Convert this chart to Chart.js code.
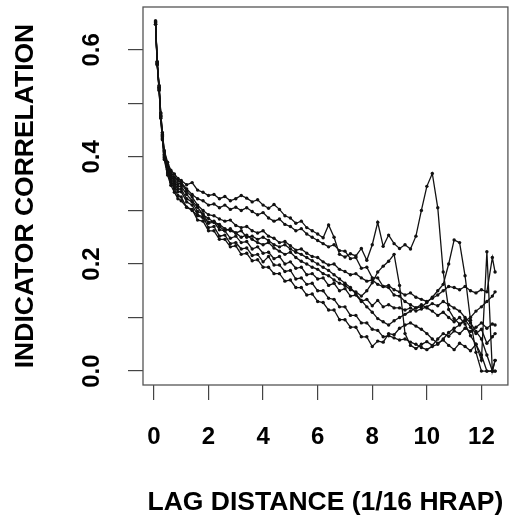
<!DOCTYPE html>
<html>
<head>
<meta charset="utf-8">
<script src="https://cdn.jsdelivr.net/npm/chart.js@4.4.1/dist/chart.umd.min.js"></script>
<style>
    html, body { margin: 0; padding: 0; background: #fff; overflow: hidden; }
    canvas { display: block; }
</style>
</head>
<body>
<canvas id="chart" width="520" height="521"></canvas>
<script>
// lag distance (1/16 HRAP) shared by all series
const lag = [0.06, 0.12, 0.19, 0.25, 0.31, 0.38, 0.5, 0.62, 0.75, 0.88,
    1.0, 1.2, 1.4, 1.6, 1.8, 2.0, 2.2, 2.4, 2.6, 2.8,
    3.0, 3.2, 3.4, 3.6, 3.8, 4.0, 4.2, 4.4, 4.6, 4.8,
    5.0, 5.2, 5.4, 5.6, 5.8, 6.0, 6.2, 6.4, 6.6, 6.8,
    7.0, 7.2, 7.4, 7.6, 7.8, 8.0, 8.2, 8.4, 8.6, 8.8,
    9.0, 9.2, 9.4, 9.6, 9.8, 10.0, 10.2, 10.4, 10.6, 10.8,
    11.0, 11.2, 11.4, 11.6, 11.8, 12.0, 12.2, 12.4, 12.5];

const series1 = [0.654, 0.578, 0.533, 0.482, 0.445, 0.412, 0.39, 0.375, 0.368, 0.36,
    0.356, 0.348, 0.352, 0.338, 0.334, 0.328, 0.33, 0.322, 0.326, 0.318,
    0.322, 0.328, 0.323, 0.316, 0.32, 0.31, 0.304, 0.311, 0.302, 0.29,
    0.286, 0.276, 0.28, 0.268, 0.262, 0.256, 0.249, 0.273, 0.25, 0.218,
    0.213, 0.219, 0.215, 0.229, 0.207, 0.236, 0.278, 0.233, 0.254, 0.238,
    0.229, 0.236, 0.228, 0.252, 0.3, 0.345, 0.369, 0.305, 0.185, 0.115,
    0.098, 0.088, 0.096, 0.082, 0.07, 0.078, 0.052, 0.064, 0.07];

const series2 = [0.654, 0.578, 0.533, 0.482, 0.445, 0.41, 0.386, 0.372, 0.362, 0.356,
    0.352, 0.34, 0.33, 0.322, 0.318, 0.31, 0.312, 0.305, 0.31, 0.302,
    0.306, 0.3, 0.305, 0.298, 0.292, 0.296, 0.286, 0.28, 0.284, 0.274,
    0.27, 0.262, 0.266, 0.256, 0.25, 0.244, 0.238, 0.232, 0.236, 0.225,
    0.224, 0.21, 0.212, 0.192, 0.194, 0.174, 0.174, 0.158, 0.156, 0.142,
    0.14, 0.13, 0.124, 0.118, 0.12, 0.128, 0.138, 0.15, 0.162, 0.2,
    0.245, 0.24, 0.178, 0.095, 0.035, 0, 0, 0, 0];

const series3 = [0.652, 0.576, 0.53, 0.48, 0.442, 0.408, 0.383, 0.368, 0.357, 0.35,
    0.35, 0.336, 0.325, 0.31, 0.3, 0.292, 0.29, 0.284, 0.28, 0.282,
    0.272, 0.268, 0.27, 0.262, 0.258, 0.262, 0.252, 0.248, 0.24, 0.242,
    0.234, 0.226, 0.228, 0.22, 0.214, 0.212, 0.204, 0.198, 0.2, 0.19,
    0.186, 0.18, 0.182, 0.174, 0.168, 0.17, 0.162, 0.158, 0.16, 0.152,
    0.148, 0.142, 0.146, 0.138, 0.134, 0.13, 0.136, 0.142, 0.15, 0.158,
    0.156, 0.152, 0.158, 0.15, 0.146, 0.152, 0.148, 0.212, 0.185];

const series4 = [0.652, 0.576, 0.53, 0.478, 0.44, 0.405, 0.38, 0.365, 0.353, 0.345,
    0.345, 0.33, 0.318, 0.306, 0.292, 0.285, 0.278, 0.274, 0.266, 0.262,
    0.258, 0.25, 0.254, 0.246, 0.24, 0.236, 0.24, 0.23, 0.224, 0.218,
    0.222, 0.212, 0.205, 0.2, 0.194, 0.19, 0.182, 0.178, 0.17, 0.164,
    0.16, 0.152, 0.148, 0.14, 0.15, 0.165, 0.185, 0.196, 0.205, 0.218,
    0.16, 0.07, 0.048, 0.042, 0.05, 0.055, 0.048, 0.06, 0.07, 0.065,
    0.075, 0.07, 0.08, 0.074, 0.082, 0.09, 0.08, 0.088, 0.086];

const series5 = [0.65, 0.574, 0.528, 0.476, 0.438, 0.402, 0.377, 0.36, 0.349, 0.34,
    0.34, 0.322, 0.316, 0.298, 0.294, 0.276, 0.278, 0.264, 0.262, 0.248,
    0.252, 0.24, 0.242, 0.228, 0.232, 0.22, 0.222, 0.21, 0.214, 0.2,
    0.204, 0.192, 0.194, 0.18, 0.182, 0.172, 0.174, 0.16, 0.164, 0.15,
    0.154, 0.14, 0.142, 0.13, 0.134, 0.122, 0.132, 0.12, 0.124, 0.118,
    0.118, 0.114, 0.118, 0.112, 0.116, 0.12, 0.126, 0.122, 0.13, 0.124,
    0.118, 0.112, 0.1, 0.09, 0.074, 0.06, 0.03, 0, 0.02];

const series6 = [0.65, 0.574, 0.527, 0.475, 0.436, 0.4, 0.374, 0.356, 0.344, 0.335,
    0.335, 0.316, 0.31, 0.292, 0.288, 0.268, 0.27, 0.252, 0.254, 0.238,
    0.24, 0.228, 0.23, 0.216, 0.218, 0.204, 0.214, 0.198, 0.198, 0.186,
    0.188, 0.172, 0.174, 0.162, 0.164, 0.15, 0.15, 0.136, 0.134, 0.12,
    0.12, 0.104, 0.104, 0.09, 0.09, 0.078, 0.076, 0.064, 0.066, 0.062,
    0.058, 0.06, 0.054, 0.05, 0.044, 0.04, 0.046, 0.05, 0.06, 0.072,
    0.08, 0.086, 0.094, 0.1, 0.112, 0.12, 0.13, 0.14, 0.148];

const series7 = [0.648, 0.572, 0.525, 0.473, 0.434, 0.398, 0.37, 0.352, 0.34, 0.328,
    0.325, 0.306, 0.302, 0.282, 0.28, 0.262, 0.262, 0.246, 0.246, 0.232,
    0.234, 0.218, 0.22, 0.206, 0.208, 0.194, 0.194, 0.182, 0.182, 0.168,
    0.17, 0.156, 0.156, 0.142, 0.144, 0.13, 0.128, 0.114, 0.114, 0.096,
    0.096, 0.082, 0.082, 0.064, 0.064, 0.046, 0.056, 0.054, 0.07, 0.068,
    0.08, 0.086, 0.09, 0.084, 0.078, 0.07, 0.06, 0.052, 0.058, 0.048,
    0.04, 0.052, 0.046, 0.038, 0.05, 0.03, 0, 0, 0];

const series8 = [0.648, 0.572, 0.524, 0.472, 0.432, 0.395, 0.366, 0.347, 0.334, 0.322,
    0.318, 0.306, 0.3, 0.29, 0.286, 0.278, 0.28, 0.27, 0.262, 0.266,
    0.258, 0.262, 0.25, 0.252, 0.246, 0.25, 0.244, 0.236, 0.232, 0.236,
    0.228, 0.222, 0.218, 0.212, 0.206, 0.2, 0.194, 0.188, 0.18, 0.172,
    0.164, 0.156, 0.144, 0.132, 0.12, 0.11, 0.098, 0.092, 0.086, 0.094,
    0.1, 0.106, 0.112, 0.118, 0.124, 0.118, 0.112, 0.104, 0.11, 0.1,
    0.092, 0.1, 0.088, 0.066, 0.05, 0.02, 0.223, 0, 0.02];

const xTicks = [0, 2, 4, 6, 8, 10, 12];
const yTickMarks = [0, 0.1, 0.2, 0.3, 0.4, 0.5, 0.6];
const yTickLabels = [0, 0.2, 0.4, 0.6];

const family = '"Liberation Sans", Arial, Helvetica, sans-serif';
const allSeries = [series1, series2, series3, series4, series5, series6, series7, series8];

// box around the plot + rotated y tick labels (R style)
const frame = {
    id: 'frame',
    afterDraw(chart) {
        const ctx = chart.ctx;
        const a = chart.chartArea;
        const y = chart.scales.y;
        ctx.save();
        ctx.strokeStyle = '#555';
        ctx.lineWidth = 1.3;
        ctx.strokeRect(a.left, a.top, a.right - a.left, a.bottom - a.top);
        ctx.fillStyle = '#000';
        ctx.font = 'bold 24px ' + family;
        ctx.textAlign = 'center';
        ctx.textBaseline = 'middle';
        yTickLabels.forEach(v => {
            ctx.save();
            ctx.translate(92, y.getPixelForValue(v));
            ctx.rotate(-Math.PI / 2);
            ctx.fillText(v.toFixed(1), 0, 0);
            ctx.restore();
        });
        ctx.restore();
    }
};

new Chart(document.getElementById('chart').getContext('2d'), {
    type: 'line',
    data: {
        datasets: allSeries.map(s => ({
            data: lag.map((x, i) => ({x: x, y: s[i]})),
            borderColor: '#111',
            borderWidth: 1.3,
            pointRadius: 1.7,
            pointBackgroundColor: '#111',
            pointBorderWidth: 0,
            pointHoverRadius: 0,
            fill: false,
            tension: 0
        }))
    },
    options: {
        responsive: false,
        animation: false,
        layout: {padding: {top: 7, right: 3, left: 0, bottom: 0}},
        plugins: {legend: {display: false}, tooltip: {enabled: false}},
        scales: {
            x: {
                type: 'linear',
                min: -0.4,
                max: 12.97,
                afterBuildTicks: s => { s.ticks = xTicks.map(v => ({value: v})); },
                afterFit: s => { s.height = 136; },
                grid: {drawOnChartArea: false, drawTicks: true, tickLength: 15, color: '#444', lineWidth: 1.2},
                border: {display: false},
                ticks: {
                    padding: 25,
                    color: '#000',
                    maxRotation: 0,
                    autoSkip: false,
                    font: {family: family, size: 24, weight: 'bold', lineHeight: 1}
                },
                title: {
                    display: true,
                    text: 'LAG DISTANCE (1/16 HRAP)',
                    color: '#000',
                    font: {family: family, size: 26.5, weight: 'bold', lineHeight: 1},
                    padding: {top: 0, bottom: 5}
                }
            },
            y: {
                min: -0.026,
                max: 0.68,
                afterBuildTicks: s => { s.ticks = yTickMarks.map(v => ({value: v})); },
                afterFit: s => { s.width = 143; },
                grid: {drawOnChartArea: false, drawTicks: true, tickLength: 15, color: '#444', lineWidth: 1.2},
                border: {display: false},
                ticks: {display: false},
                title: {
                    display: true,
                    text: 'INDICATOR CORRELATION',
                    color: '#000',
                    font: {family: family, size: 26.5, weight: 'bold', lineHeight: 1},
                    padding: {top: 12, bottom: 0}
                }
            }
        }
    },
    plugins: [frame]
});
</script>
</body>
</html>
